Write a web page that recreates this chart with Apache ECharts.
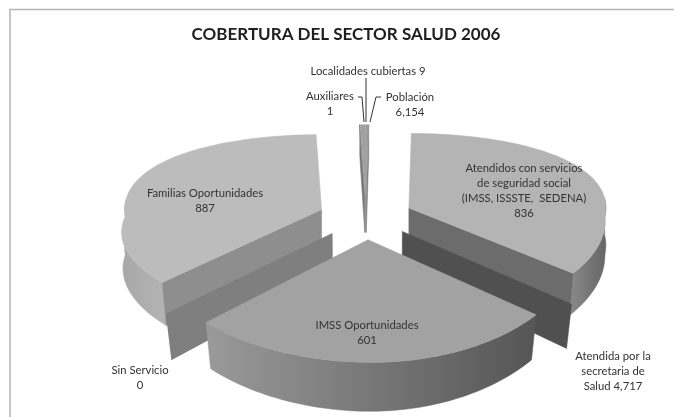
<!DOCTYPE html>
<html>
<head>
<meta charset="utf-8">
<style>
  html, body { margin: 0; padding: 0; background: #fff; }
  #chart { width: 674px; height: 417px; }
</style>
</head>
<body>
<div id="chart"></div>
<script src="https://cdn.jsdelivr.net/npm/echarts@6/dist/echarts.min.js"></script>
<script>
// slices clockwise from the top, zero values are only the walls seen in the picture
const sliceNames = ['Auxiliares', 'Localidades cubiertas', 'Población', 'Atendidos', 'Atendida secretaria', 'IMSS Oportunidades', 'Sin Servicio', 'Familias Oportunidades'];
const sliceValues = [1, 9, 5, 836, 0, 601, 0, 887];
const labelLines = [
  ['Localidades cubiertas 9'],
  ['Auxiliares', '1'],
  ['Población', '6,154'],
  ['Familias Oportunidades', '887'],
  ['Atendidos con servicios', 'de seguridad social', '(IMSS, ISSSTE,  SEDENA)', '836'],
  ['IMSS Oportunidades', '601'],
  ['Sin Servicio', '0'],
  ['Atendida por la', 'secretaria de', 'Salud 4,717']
];
const labelAnchors = [[368, 71], [330, 96], [410, 97], [205, 193], [524, 168], [367, 325], [140, 370], [613, 356]];
const leaderLines = [
  [[366, 78], [366, 122]],
  [[358, 97], [362, 97], [364, 122]],
  [[381, 97], [376, 97], [370, 122]]
];
const topColors = ['#8a8a8a', '#a0a0a0', '#9a9a9a', '#b4b4b4', '#505050', '#a2a2a2', '#7f7f7f', '#bcbcbc'];
const cutColors = ['#777777', '#777777', '#777777', '#6c6c6c', '#505050', '#777777', '#7f7f7f', '#8e8e8e'];
const rimColors = [
  ['#888888', '#888888'], ['#888888', '#888888'], ['#888888', '#888888'],
  ['#8a8a8a', '#666666'], ['#505050', '#505050'], ['#9a9a9a', '#555555'],
  ['#7f7f7f', '#7f7f7f'], ['#a8a8a8', '#b4b4b4']
];

const chart = echarts.init(document.getElementById('chart'));

const centerX = 366, centerY = 217;
const radiusX = 197, radiusY = 91;
const explode = 0.24;
const depth = 38;
const startAngle = -1.6;
const total = sliceValues.reduce((a, b) => a + b, 0);

function toAngle(v) {
  return echarts.number.linearMap(v, [0, total], [0, 360]);
}

// plane point to screen, front half gets bigger like the 3d perspective of the original
function project(px, py, lift) {
  const front = Math.max(py, 0);
  const sy = 1 / (1 - 0.18 * py);
  const sx = (1 + (px < 0 ? 0.2 : 0.15) * front) * (1 - lift * 0.0008 * front);
  return [
    centerX - 7 * front + radiusX * px * sx,
    centerY + radiusY * py * sy + 5 * px * front + lift * sy
  ];
}

function rimPoint(vx, vy, deg) {
  const r = deg * Math.PI / 180;
  return [vx + Math.sin(r), vy - Math.cos(r)];
}

function poly(points, fill, z2) {
  return { type: 'polygon', shape: { points: points }, style: { fill: fill, stroke: fill, lineWidth: 0.5 }, z2: z2, silent: true };
}

function wallFace(tip, rim, fill, z2) {
  return poly([
    project(tip[0], tip[1], 0), project(rim[0], rim[1], 0),
    project(rim[0], rim[1], depth), project(tip[0], tip[1], depth)
  ], fill, z2);
}

function renderSlice(params, api) {
  const i = api.value(0);
  const before = sliceValues.slice(0, i).reduce((a, b) => a + b, 0);
  const a0 = startAngle + toAngle(before);
  const a1 = a0 + toAngle(sliceValues[i]);
  const mid = (a0 + a1) / 2 * Math.PI / 180;
  const vx = explode * Math.sin(mid), vy = -explode * Math.cos(mid);
  const z2 = Math.round((1 - Math.cos(mid)) * 10);
  const thin = sliceValues[i] < 20;
  const children = [];

  // outer side
  const arc = [];
  const step = 1.5;
  for (let d = a0; d < a1; d += step) arc.push(rimPoint(vx, vy, d));
  arc.push(rimPoint(vx, vy, a1));
  const front = arc.filter(p => p[1] > vy - 0.12);
  if (front.length > 1) {
    const pts = front.map(p => project(p[0], p[1], 0))
      .concat(front.slice().reverse().map(p => project(p[0], p[1], depth)));
    children.push(poly(pts, {
      type: 'linear', x: 0, y: 0, x2: 1, y2: 0,
      colorStops: [{ offset: 0, color: rimColors[i][0] }, { offset: 1, color: rimColors[i][1] }]
    }, z2));
  }

  // cut walls, only the ones turned to the viewer
  const tip = [vx, vy];
  if (thin || (a1 > 90 && a1 < 180)) children.push(wallFace(tip, rimPoint(vx, vy, a1), cutColors[i], z2));
  if (a0 > 180 && a0 < 270) children.push(wallFace(tip, rimPoint(vx, vy, a0), cutColors[i], z2));

  // top face
  if (sliceValues[i] > 0) {
    const pts = [project(tip[0], tip[1], 0)].concat(arc.map(p => project(p[0], p[1], 0)));
    children.push(poly(pts, topColors[i], z2 + 1));
  }
  return { type: 'group', children: children };
}

const textEls = [];
labelLines.forEach(function (lines, i) {
  lines.forEach(function (t, j) {
    textEls.push({
      type: 'text',
      x: labelAnchors[i][0],
      y: labelAnchors[i][1] + j * 15.2,
      z: 20,
      style: { text: t, fill: '#333333', font: '11.3px Lato', textAlign: 'center', textVerticalAlign: 'middle' }
    });
  });
});
const leaderEls = leaderLines.map(function (pts) {
  return { type: 'polyline', z: 20, shape: { points: pts }, style: { stroke: '#333333', lineWidth: 1, fill: null } };
});

chart.setOption({
  animation: false,
  backgroundColor: '#ffffff',
  title: {
    text: 'COBERTURA DEL SECTOR SALUD 2006',
    left: 341,
    top: 21,
    textAlign: 'center',
    textStyle: { color: '#1f1f1f', fontFamily: 'Lato', fontWeight: 'bold', fontSize: 17 }
  },
  graphic: [
    { type: 'polyline', z: 1, shape: { points: [[10, 417], [10, 9.5], [674, 9.5]] }, style: { stroke: '#b4b4b4', lineWidth: 1.5, fill: null } }
  ].concat(leaderEls, textEls),
  series: [{
    type: 'custom',
    coordinateSystem: 'none',
    renderItem: renderSlice,
    data: sliceNames.map(function (n, i) { return { name: n, value: [i] }; })
  }]
});
</script>
</body>
</html>
